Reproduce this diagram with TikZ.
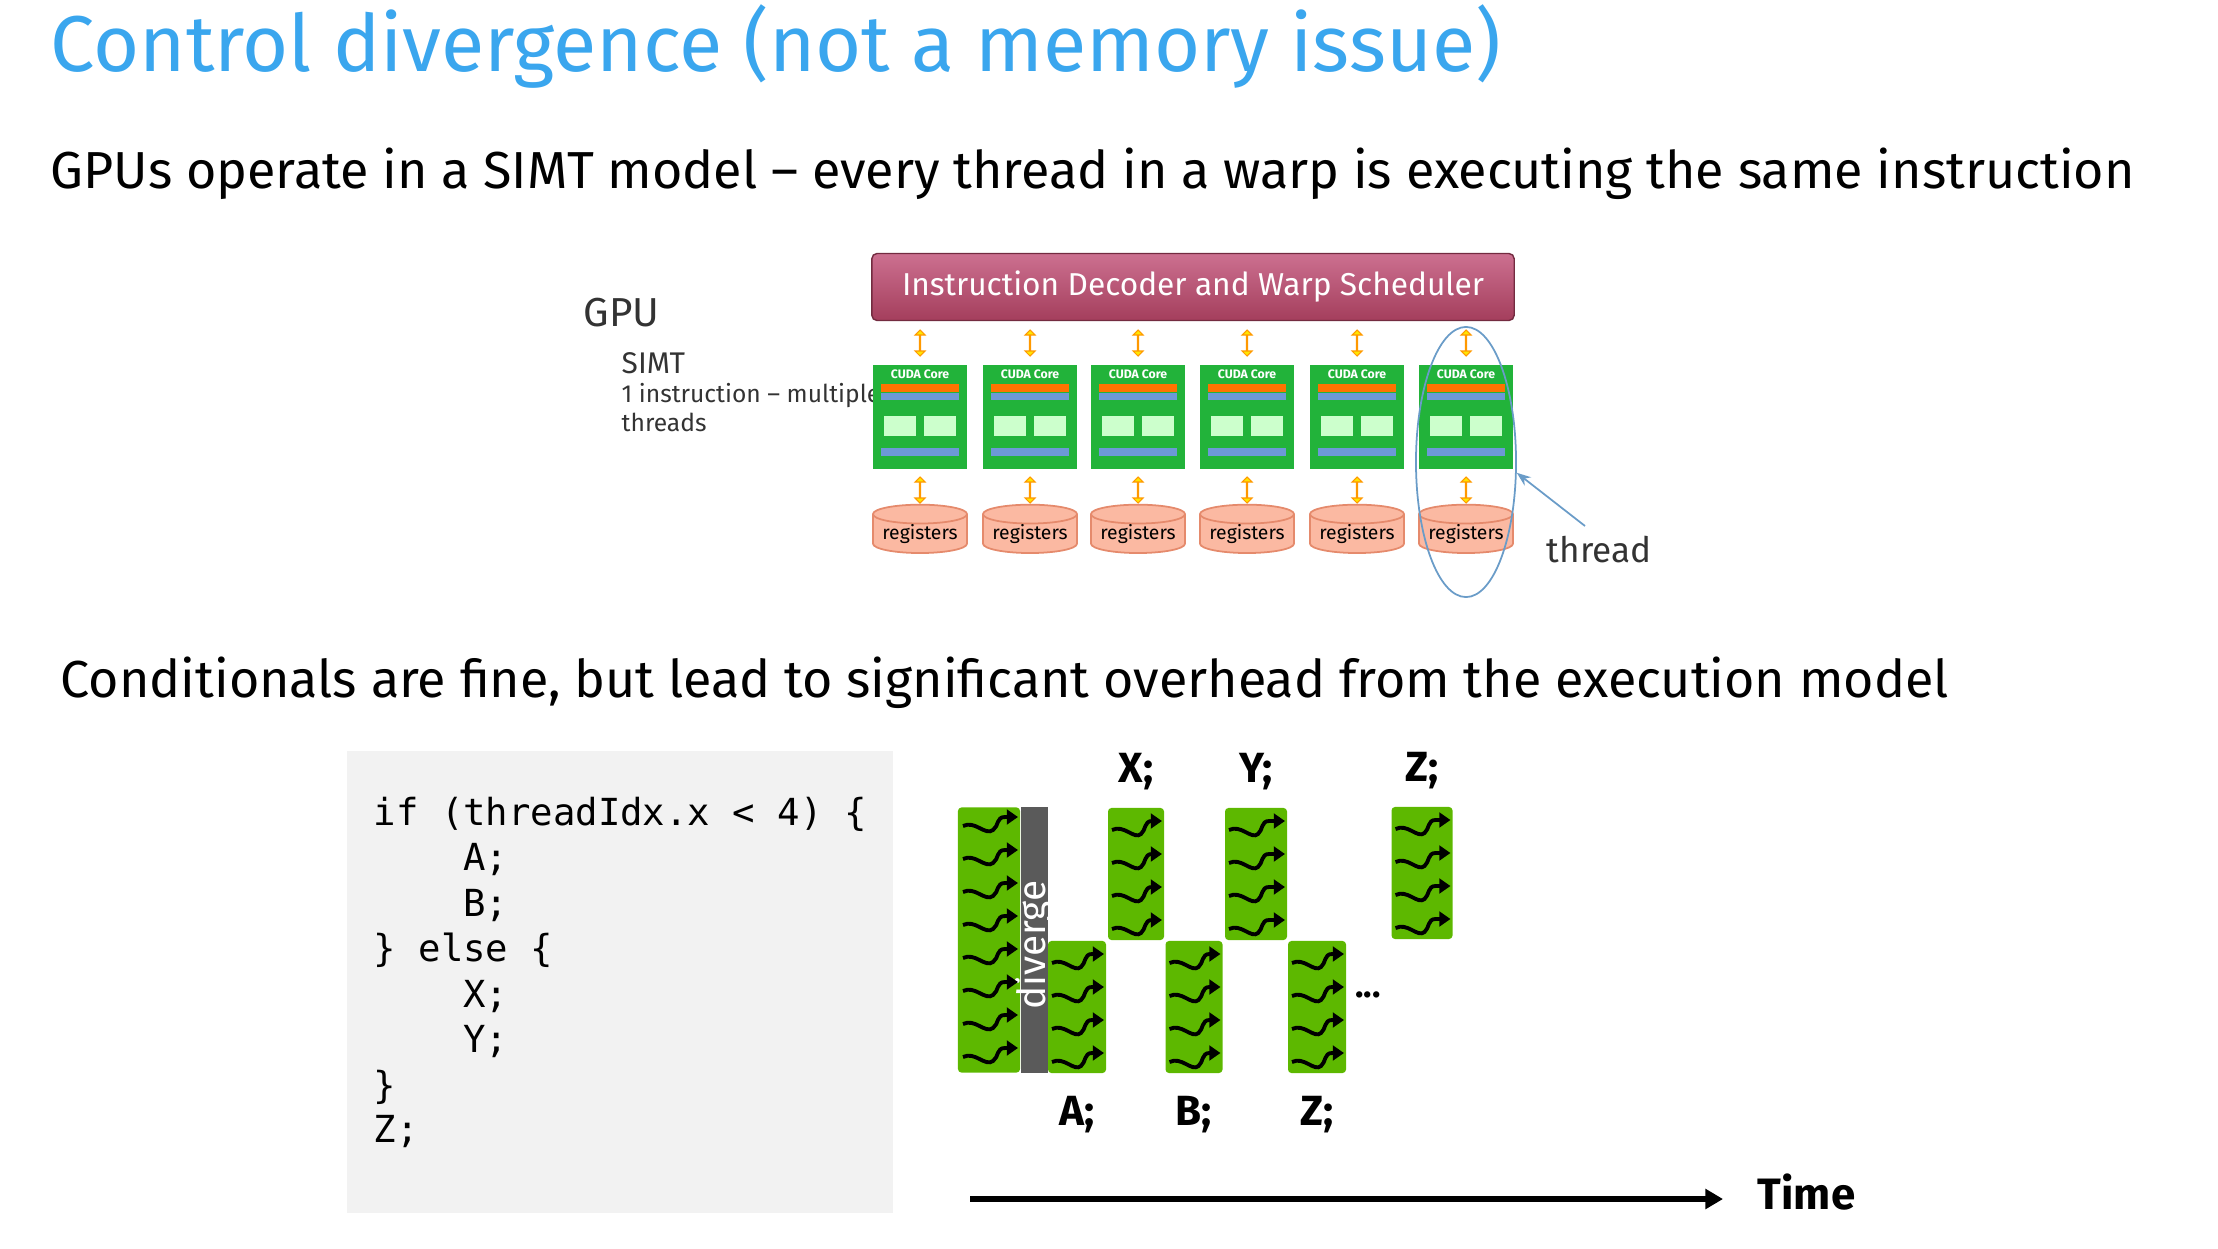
\documentclass[tikz,border=0pt]{standalone}
\usepackage{fontspec}
\setmainfont{Fira Sans}
\newfontfamily\codefont{DejaVu Sans Mono}
\usetikzlibrary{shapes.geometric,shapes.arrows,arrows.meta,positioning,calc}
\definecolor{titleblue}{HTML}{3AA6EE}
\definecolor{schedtop}{HTML}{CC7090}
\definecolor{schedbot}{HTML}{A43E5C}
\definecolor{coregreen}{HTML}{22B33A}
\definecolor{regfill}{HTML}{FBB9A2}
\definecolor{regdraw}{HTML}{E58A6C}
\definecolor{warpgreen}{HTML}{5DB800}
\definecolor{divgray}{HTML}{5A5A5A}
\definecolor{codebg}{HTML}{F2F2F2}
\definecolor{ellblue}{HTML}{6A9CC8}
\tikzset{
  txt/.style={anchor=base west, inner sep=0pt},
  core/.style={rectangle, fill=coregreen, minimum width=0.94cm, minimum height=1.04cm, inner sep=0pt},
  reg/.style={cylinder, shape border rotate=90, aspect=0.25, fill=regfill, draw=regdraw, line width=0.5,
    minimum width=0.94cm, minimum height=0.44cm, inner sep=0pt, font=\fontsize{5.5}{5.5}\selectfont},
  ybus/.style={double arrow, fill=yellow!90!orange, draw=orange!80!yellow, line width=0.3, rotate=90,
    minimum height=0.26cm, minimum width=0.1cm, double arrow head extend=0.04cm, inner sep=0pt},
  warp/.style={rectangle, rounded corners=1, fill=warpgreen, inner sep=0pt},
  lbl/.style={font=\bfseries\fontsize{12}{12}\selectfont},
  squig/.style={line width=1.1, -{Triangle[length=3.2,width=4.2]}},
}
\begin{document}
\begin{tikzpicture}[x=0.01cm, y=-0.01cm]
\useasboundingbox (0,0) rectangle (2218,1248);
% texts
\node[txt, text=titleblue, font=\fontsize{22.5}{22.5}\selectfont] (title) at (50,71) {Control divergence (not a memory issue)};
\node[txt, font=\fontsize{14.8}{14.8}\selectfont] (simt) at (50,188) {GPUs operate in a SIMT model -- every thread in a warp is executing the same instruction};
\node[txt, font=\fontsize{14.8}{14.8}\selectfont] (cond) at (60,697) {Conditionals are fine, but lead to significant overhead from the execution model};

% GPU figure
\node[txt, text=black!80, font=\fontsize{11.5}{11.5}\selectfont] (gpu) at (583,326) {GPU};
\node[txt, text=black!80, font=\fontsize{8.5}{8.5}\selectfont] (simtlbl) at (621,373) {SIMT};
\node[txt, text=black!80, font=\fontsize{7}{7}\selectfont] (simtl1) at (621,402) {1 instruction -- multiple};
\node[txt, text=black!80, font=\fontsize{7}{7}\selectfont] (simtl2) at (621,431) {threads};
\node[rectangle, rounded corners=1.5, top color=schedtop, bottom color=schedbot, draw=schedbot!70!black,
  minimum width=6.42cm, minimum height=0.67cm, text=white, font=\fontsize{9}{9}\selectfont] (sched) at (1193,287) {Instruction Decoder and Warp Scheduler};
\foreach \i/\x in {1/920,2/1030,3/1138,4/1247,5/1357,6/1466}{
  \node[core] (core\i) at (\x,417) {};
  \node[text=white, inner sep=0pt, font=\bfseries\fontsize{3.5}{3.5}\selectfont, below=0.05cm of core\i.north] (cname\i) {CUDA Core};
  \fill[orange!90!red] ($(core\i.north west)+(9,20)$) rectangle ($(core\i.north east)+(-9,28)$);
  \fill[cyan!50!blue!60] ($(core\i.north west)+(9,29)$) rectangle ($(core\i.north east)+(-9,36)$);
  \fill[green!20] ($(core\i.north west)+(12,52)$) rectangle ($(core\i.north)+(-4,72)$);
  \fill[green!20] ($(core\i.north)+(4,52)$) rectangle ($(core\i.north east)+(-12,72)$);
  \fill[cyan!50!blue!60] ($(core\i.north west)+(9,84)$) rectangle ($(core\i.north east)+(-9,92)$);
  \node[ybus] (bustop\i) at (\x,343) {};
  \node[ybus] (busbot\i) at (\x,490) {};
  \node[reg] (reg\i) at (\x,534) {registers};
}
\node[draw=ellblue, line width=0.5, ellipse, minimum width=1cm, minimum height=2.7cm, inner sep=0pt] (ell) at (1466,462) {};
\node[txt, text=black!80, font=\fontsize{10}{10}\selectfont] (thread) at (1546,562) {thread};
\coordinate (thr) at (1585,526);
\draw[ellblue, line width=0.5, -{Stealth[length=4]}] (thr) -- (ell.-12);

% code
\node[rectangle, fill=codebg, minimum width=5.45cm, minimum height=4.62cm, inner sep=0pt] (code) at (620,982) {};
\foreach \ln/\y/\t in {1/825/{if (threadIdx.x < 4) \{},2/870/{\ \ \ \ A;},3/916/{\ \ \ \ B;},4/961/{\} else \{},
  5/1007/{\ \ \ \ X;},6/1052/{\ \ \ \ Y;},7/1098/{\}},8/1142/{Z;}}{
  \node[txt, font=\codefont\fontsize{10.6}{10.6}\selectfont] (cl\ln) at (373,\y) {\t};
}

% warp diagram
\node[warp, minimum width=0.62cm, minimum height=2.65cm] (all) at (989,940) {};
\node[rectangle, fill=divgray, minimum width=0.27cm, minimum height=2.65cm, inner sep=0pt] (div) at (1034.5,940) {};
\node[rotate=90, text=white, font=\fontsize{11}{11}\selectfont] (divlbl) at (1034.5,945) {diverge};
\foreach \j in {0,...,7}{
  \draw[squig] (963,{826+\j*33}) .. controls (975,{820+\j*33}) and (985,{836+\j*33}) .. (993,{830+\j*33})
    .. controls (999,{826+\j*33}) and (996,{817+\j*33}) .. (1005,{817+\j*33}) -- (1018,{817+\j*33});
}
\foreach \n/\cx/\cy/\w in {A/1077/1007/58, X/1136/874/56, B/1194/1007/57, Y/1256/874/62, Zl/1317/1007/58, Zh/1422/873/61}{
  \node[warp, minimum width=\w*0.01cm, minimum height=1.32cm] (w\n) at (\cx,\cy) {};
  \foreach \j in {0,...,3}{
    \draw[squig] ({\cx-\w/2+4},{\cy-44+\j*33}) .. controls ({\cx-\w/2+16},{\cy-50+\j*33}) and ({\cx-\w/2+26},{\cy-34+\j*33}) .. ({\cx-\w/2+33},{\cy-40+\j*33})
      .. controls ({\cx-\w/2+38},{\cy-44+\j*33}) and ({\cx-\w/2+36},{\cy-53+\j*33}) .. ({\cx-\w/2+44},{\cy-53+\j*33}) -- ({\cx+\w/2-2},{\cy-53+\j*33});
  }
}
\node[lbl, above=0.05cm of wX] (lX) {X;};
\node[lbl, above=0.05cm of wY] (lY) {Y;};
\node[lbl, above=0.05cm of wZh] (lZh) {Z;};
\node[lbl, below=0.1cm of wA] (lA) {A;};
\node[lbl, below=0.1cm of wB] (lB) {B;};
\node[lbl, below=0.1cm of wZl] (lZl) {Z;};
\node[font=\bfseries\fontsize{10}{10}\selectfont] (dots) at (1368,995) {...};
\node[txt, font=\bfseries\fontsize{12.5}{12.5}\selectfont] (time) at (1757,1209) {Time};
\coordinate (tstart) at (970,1199);
\coordinate (tend) at (1723,1199);
\draw[line width=1.7, -{Triangle[length=5,width=5.5]}] (tstart) -- (tend);
\end{tikzpicture}
\end{document}
